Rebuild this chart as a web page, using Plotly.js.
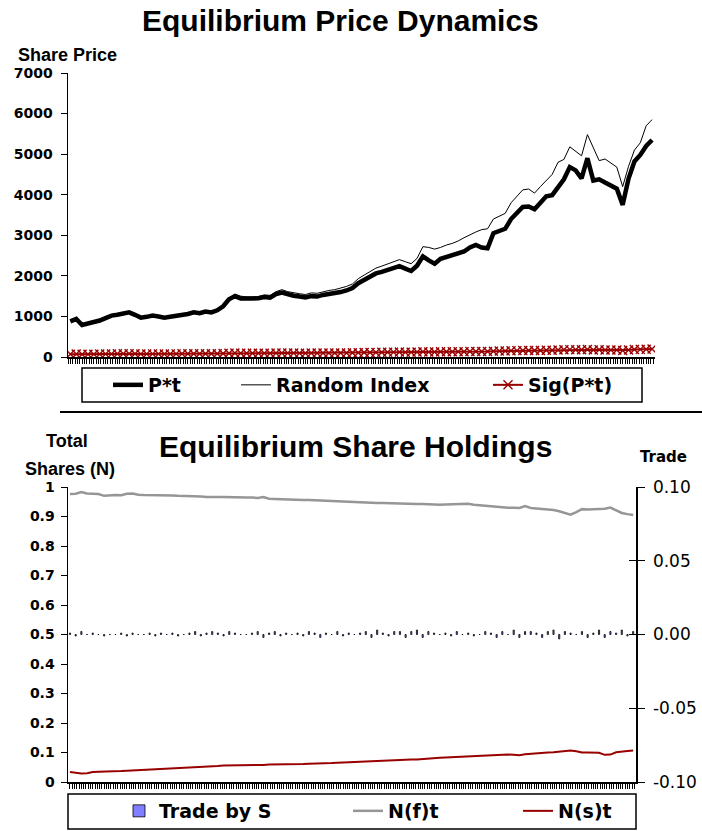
<!DOCTYPE html>
<html>
<head>
<meta charset="utf-8">
<script src="https://cdn.plot.ly/plotly-3.0.1.min.js"></script>
<style>html,body{margin:0;padding:0;background:#fff}#chart{width:702px;height:831px}</style>
</head>
<body>
<div id="chart"></div>
<script>
// ---- Data ----
var pStar = [880,940,790,820,860,900,960,1020,1040,1080,
1100,1040,970,990,1020,1000,970,990,1010,1030,
1060,1100,1080,1120,1100,1150,1250,1420,1500,1440,
1430,1440,1450,1480,1460,1550,1590,1540,1510,1490,
1470,1500,1490,1530,1550,1570,1600,1640,1700,1820,
1900,1980,2060,2100,2150,2200,2240,2180,2120,2250,
2480,2380,2300,2420,2460,2500,2550,2600,2700,2760,
2700,2680,3050,3120,3160,3400,3560,3700,3710,3640,
3800,3960,3990,4200,4380,4680,4600,4400,4900,4350,
4380,4300,4220,4150,3750,4400,4820,4980,5200,5350];

var randomIndex = [890,950,800,830,870,910,970,1030,1050,1090,
1110,1050,980,1000,1030,1010,980,1000,1020,1040,
1070,1110,1090,1130,1110,1160,1270,1450,1550,1500,
1480,1480,1490,1530,1520,1610,1660,1610,1580,1560,
1540,1580,1570,1610,1640,1660,1700,1740,1800,1930,
2020,2100,2190,2240,2300,2360,2400,2350,2300,2430,
2720,2700,2660,2700,2760,2800,2860,2940,3020,3080,
3140,3160,3400,3480,3540,3800,3950,4120,4140,4040,
4200,4340,4500,4800,4870,5180,5080,4960,5480,5150,
4840,4880,4780,4680,4200,4700,5100,5280,5700,5850];

var sigP = [70,72,66,68,70,72,74,76,78,80,
80,78,75,76,77,76,75,76,77,78,
79,80,80,81,81,82,86,92,96,94,
93,93,93,94,94,96,98,97,96,95,
95,96,96,97,98,98,100,101,103,106,
109,112,114,116,118,120,121,119,118,122,
128,126,124,127,128,129,131,132,135,137,
136,135,144,146,147,153,157,161,161,159,
163,167,168,172,176,182,180,176,186,175,
176,174,173,171,162,175,184,188,193,196];

var nF = [0.976,0.977,0.983,0.978,0.977,0.976,0.970,0.972,0.973,0.972,
0.977,0.978,0.974,0.973,0.973,0.972,0.972,0.971,0.971,0.970,
0.970,0.969,0.969,0.968,0.966,0.967,0.966,0.966,0.965,0.965,
0.965,0.964,0.964,0.963,0.966,0.960,0.959,0.958,0.958,0.957,
0.957,0.956,0.956,0.955,0.954,0.954,0.953,0.952,0.951,0.950,
0.950,0.949,0.948,0.947,0.946,0.946,0.945,0.944,0.944,0.943,
0.943,0.942,0.942,0.941,0.940,0.940,0.941,0.942,0.941,0.942,
0.943,0.940,0.938,0.936,0.934,0.932,0.931,0.930,0.930,0.929,
0.935,0.929,0.927,0.926,0.924,0.922,0.918,0.912,0.906,0.915,
0.925,0.924,0.924,0.925,0.926,0.930,0.920,0.912,0.908,0.905];

var nS = [0.034,0.032,0.029,0.030,0.034,0.035,0.035,0.036,0.036,0.037,
0.038,0.039,0.040,0.040,0.040,0.041,0.042,0.043,0.044,0.046,
0.047,0.048,0.049,0.050,0.051,0.053,0.054,0.056,0.056,0.056,
0.057,0.057,0.058,0.058,0.058,0.059,0.059,0.060,0.060,0.060,
0.061,0.061,0.062,0.062,0.062,0.063,0.064,0.065,0.066,0.067,
0.067,0.068,0.069,0.070,0.071,0.072,0.073,0.073,0.074,0.075,
0.076,0.076,0.078,0.080,0.081,0.082,0.083,0.084,0.085,0.086,
0.087,0.087,0.088,0.089,0.091,0.092,0.093,0.093,0.092,0.091,
0.094,0.096,0.098,0.099,0.100,0.101,0.103,0.105,0.107,0.104,
0.100,0.100,0.100,0.099,0.092,0.093,0.101,0.104,0.105,0.107];

var tradeS = [0.001,-0.001,0.002,0,0.001,0,-0.001,0,0,0.001,
-0.001,0.001,0,0,0.001,-0.001,0.001,0,0.001,-0.001,
0,0.001,0.002,-0.001,0.001,0.002,0.001,-0.001,0.002,0.001,
0,0,0.001,0.002,-0.002,0.001,0.002,-0.001,0.001,0,
0.001,-0.001,0.002,0.001,-0.002,0.001,0,0.002,-0.001,0.001,
0,0.001,0.002,-0.002,0.003,0.001,-0.001,0.002,0.002,-0.002,
0.002,0.003,-0.002,0.002,0.001,0,0.001,-0.001,0.002,0,
0.001,-0.001,0,0.002,0.001,-0.002,0.002,0,0.003,-0.002,
0.002,0.002,0.001,-0.002,0.002,0.003,-0.003,0.002,0.001,0,
0.002,-0.002,0.001,0.003,-0.002,0.002,0.001,0.003,-0.001,0.002];

var tradeTickVals = [-0.10,-0.05,0.00,0.05,0.10];
var tradeTickText = ['-0.10','-0.05','0.00','0.05','0.10'];

var periods = pStar.map(function(_, i){ return i; });

// ---- Helpers ----
var W = 702, H = 831;
function px(x){ return x / W; }
function py(y){ return 1 - y / H; }

var legendFont = {family: 'DejaVu Sans', size: 19, weight: 'bold', color: '#000'};
function legendAt(xLeft, yMid){
  return {x: px(xLeft), y: py(yMid), xanchor: 'left', yanchor: 'middle',
          orientation: 'h', bgcolor: 'rgba(0,0,0,0)', borderwidth: 0,
          font: legendFont, itemwidth: 30};
}

var traces = [
  {x: periods, y: pStar, name: 'P*t', type: 'scatter', mode: 'lines',
   line: {color: '#000', width: 4.5}, xaxis: 'x', yaxis: 'y', legend: 'legend'},
  {x: periods, y: randomIndex, name: 'Random Index', type: 'scatter', mode: 'lines',
   line: {color: '#000', width: 1}, xaxis: 'x', yaxis: 'y', legend: 'legend2'},
  {x: periods, y: sigP, name: 'Sig(P*t)', type: 'scatter', mode: 'lines+markers',
   line: {color: '#990000', width: 2},
   marker: {symbol: 'x-thin', size: 9, line: {color: '#990000', width: 1.4}, color: '#990000'},
   xaxis: 'x', yaxis: 'y', legend: 'legend3'},
  {x: periods, y: tradeS, name: 'Trade by S', type: 'bar', width: 0.2,
   marker: {color: '#7f7fff', line: {color: '#000', width: 0.8}},
   xaxis: 'x2', yaxis: 'y3', legend: 'legend4'},
  {x: periods, y: nF, name: 'N(f)t', type: 'scatter', mode: 'lines',
   line: {color: '#969696', width: 2.5}, xaxis: 'x2', yaxis: 'y2', legend: 'legend5'},
  {x: periods, y: nS, name: 'N(s)t', type: 'scatter', mode: 'lines',
   line: {color: '#990000', width: 2}, xaxis: 'x2', yaxis: 'y2', legend: 'legend6'},
  {x: [], y: [], type: 'scatter', mode: 'lines', showlegend: false, xaxis: 'x2', yaxis: 'y4', hoverinfo: 'skip'}
];

var axFont = {family: 'DejaVu Sans', size: 14, weight: 'bold', color: '#000'};
var xCommon = {showline: true, linecolor: '#000', linewidth: 1.5, ticks: 'outside', ticklen: 5,
  tickcolor: '#000', tickwidth: 1, tick0: 0, dtick: 0.4, showticklabels: false,
  showgrid: false, zeroline: false, fixedrange: true};

var layout = {
  width: W, height: H,
  margin: {l: 0, r: 0, t: 0, b: 0, pad: 0},
  paper_bgcolor: '#fff', plot_bgcolor: 'rgba(0,0,0,0)',
  showlegend: true, hovermode: false, bargap: 0,
  xaxis: Object.assign({}, xCommon, {domain: [px(68), px(655)], range: [-0.4, 99.5], anchor: 'y'}),
  yaxis: {domain: [py(357), py(73)], range: [0, 7000], dtick: 1000, anchor: 'x',
    showline: true, linecolor: '#000', linewidth: 1.5, ticks: 'outside', ticklen: 6,
    ticklabelstandoff: 5,
    tickcolor: '#000', tickfont: axFont, showgrid: false, zeroline: false, fixedrange: true},
  xaxis2: Object.assign({}, xCommon, {domain: [px(68), px(636)], range: [-0.35, 99.5], anchor: 'y2'}),
  yaxis2: {domain: [py(782), py(487)], range: [0, 1], dtick: 0.1, anchor: 'x2',
    showline: true, linecolor: '#000', linewidth: 1.5, ticks: 'outside', ticklen: 6,
    ticklabelstandoff: 3,
    tickcolor: '#000', tickfont: axFont, showgrid: false, zeroline: false, fixedrange: true},
  yaxis3: {overlaying: 'y2', side: 'right', anchor: 'x2', range: [-0.1, 0.1],
    tickmode: 'array', tickvals: tradeTickVals, ticktext: tradeTickText,
    showline: true, linecolor: '#000', linewidth: 1.5, ticks: 'outside', ticklen: 7,
    ticklabelstandoff: 5,
    tickcolor: '#000', tickfont: {family: 'DejaVu Sans', size: 17, color: '#000'},
    showgrid: false, zeroline: false, fixedrange: true},
  yaxis4: {overlaying: 'y2', side: 'right', anchor: 'x2', range: [-0.1, 0.1],
    tickmode: 'array', tickvals: tradeTickVals, showticklabels: false,
    showline: false, ticks: 'inside', ticklen: 7, tickcolor: '#000',
    showgrid: false, zeroline: false, fixedrange: true},
  legend: legendAt(108, 385),
  legend2: legendAt(236, 385),
  legend3: legendAt(488, 385),
  legend4: legendAt(119, 811),
  legend5: legendAt(348, 811),
  legend6: legendAt(518, 811),
  shapes: [
    {type: 'rect', xref: 'paper', yref: 'paper', x0: px(82), x1: px(642), y0: py(402), y1: py(368),
     line: {color: '#000', width: 1.5}, fillcolor: 'rgba(0,0,0,0)'},
    {type: 'rect', xref: 'paper', yref: 'paper', x0: px(68), x1: px(636), y0: py(829), y1: py(794),
     line: {color: '#000', width: 1.5}, fillcolor: 'rgba(0,0,0,0)'},
    {type: 'line', xref: 'paper', yref: 'paper', x0: px(60), x1: px(702), y0: py(412), y1: py(412),
     line: {color: '#000', width: 2}}
  ],
  annotations: [
    {text: 'Equilibrium Price Dynamics', xref: 'paper', yref: 'paper', x: px(340), y: py(20),
     xanchor: 'center', yanchor: 'middle', showarrow: false,
     font: {family: 'Liberation Sans', size: 30, weight: 'bold', color: '#000'}},
    {text: 'Share Price', xref: 'paper', yref: 'paper', x: px(16), y: py(55),
     xanchor: 'left', yanchor: 'middle', showarrow: false,
     font: {family: 'Liberation Sans', size: 18, weight: 'bold', color: '#000'}},
    {text: 'Equilibrium Share Holdings', xref: 'paper', yref: 'paper', x: px(355), y: py(446),
     xanchor: 'center', yanchor: 'middle', showarrow: false,
     font: {family: 'Liberation Sans', size: 30, weight: 'bold', color: '#000'}},
    {text: 'Total', xref: 'paper', yref: 'paper', x: px(67), y: py(441),
     xanchor: 'center', yanchor: 'middle', showarrow: false,
     font: {family: 'Liberation Sans', size: 18, weight: 'bold', color: '#000'}},
    {text: 'Shares (N)', xref: 'paper', yref: 'paper', x: px(70), y: py(469),
     xanchor: 'center', yanchor: 'middle', showarrow: false,
     font: {family: 'Liberation Sans', size: 18, weight: 'bold', color: '#000'}},
    {text: 'Trade', xref: 'paper', yref: 'paper', x: px(663), y: py(457),
     xanchor: 'center', yanchor: 'middle', showarrow: false,
     font: {family: 'DejaVu Sans', size: 15, weight: 'bold', color: '#000'}}
  ]
};

Plotly.newPlot('chart', traces, layout, {staticPlot: true, displayModeBar: false});
</script>
</body>
</html>
